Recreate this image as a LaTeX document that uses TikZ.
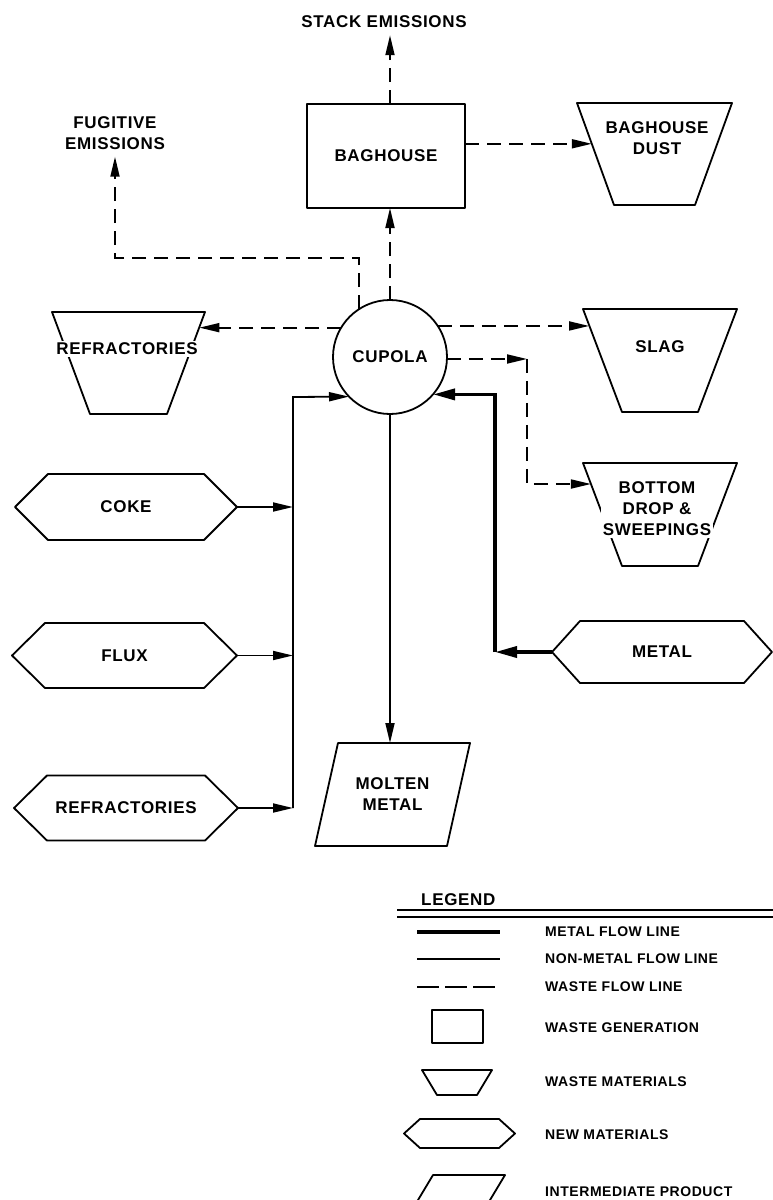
\documentclass[tikz,border=0pt]{standalone}
\usepackage{fontspec}
\setmainfont{Liberation Sans}[LetterSpace=4]
\usetikzlibrary{arrows.meta,calc}
\newcommand{\wastetrap}[2]{\draw[shp] (#1.north west) -- (#1.north east) -- ([xshift=-#2]#1.south east) -- ([xshift=#2]#1.south west) -- cycle;}
\newcommand{\newmat}[2]{\draw[shp] (#1.west) -- ([xshift=#2]#1.north west) -- ([xshift=-#2]#1.north east) -- (#1.east) -- ([xshift=-#2]#1.south east) -- ([xshift=#2]#1.south west) -- cycle;}
\newcommand{\interprod}[2]{\draw[shp] ([xshift=#2]#1.north west) -- (#1.north east) -- ([xshift=-#2]#1.south east) -- (#1.south west) -- cycle;}
\begin{document}
\begin{tikzpicture}[x=1pt,y=-1pt,
  lbl/.style={font=\fontsize{17}{21}\selectfont\bfseries, align=center, inner sep=1pt},
  lg/.style={font=\fontsize{14}{17}\selectfont\bfseries, anchor=west, inner sep=0pt},
  shp/.style={line width=1.8pt, line join=round},
  box/.style={draw=none, outer sep=0pt, inner sep=0pt},
  nonmetal/.style={line width=1.8pt},
  metal/.style={line width=3.6pt},
  waste/.style={line width=1.8pt, dash pattern=on 14pt off 8pt},
  tip/.style={-{Triangle[length=20pt,width=9pt]}},
  mtip/.style={-{Triangle[length=22pt,width=11pt]}}]
\useasboundingbox (0,0) rectangle (773,1200);
\clip (0,0) rectangle (773,1200);

% ---------- process nodes ----------
\node[box, draw, shp, minimum width=158pt, minimum height=104pt, lbl] (baghouse) at (386,156) {BAGHOUSE};
\node[lbl] (stack) at (384,22) {STACK EMISSIONS};
\node[lbl] (fugitive) at (115,133) {FUGITIVE\\EMISSIONS};
\node[circle, draw, shp, minimum size=114pt, inner sep=0pt, outer sep=0pt, lbl] (cupola) at (390,357) {CUPOLA};

% waste materials
\node[box, minimum width=155pt, minimum height=102pt] (dust) at (654.5,154) {};
\wastetrap{dust}{37pt}
\node[lbl] (dusttext) at (657,138) {BAGHOUSE\\DUST};

\node[box, minimum width=153pt, minimum height=102pt] (refw) at (128.5,363) {};
\wastetrap{refw}{38pt}
\node[lbl, fill=white, inner sep=2pt] (refwtext) at (127,349) {REFRACTORIES};

\node[box, minimum width=154pt, minimum height=103pt] (slag) at (660,360.5) {};
\wastetrap{slag}{39pt}
\node[lbl] (slagtext) at (660,347) {SLAG};

\node[box, minimum width=154pt, minimum height=103pt] (bdrop) at (660,514.5) {};
\wastetrap{bdrop}{39pt}
\node[lbl, fill=white, inner sep=2pt] (bdtext) at (657,509) {BOTTOM\\DROP \&\\SWEEPINGS};

% new materials
\node[box, minimum width=222pt, minimum height=66pt, lbl] (coke) at (126,507) {COKE};
\newmat{coke}{33pt}
\node[box, minimum width=225pt, minimum height=65pt, lbl] (flux) at (124.5,655.5) {FLUX};
\newmat{flux}{33pt}
\node[box, minimum width=224pt, minimum height=65pt, lbl] (refn) at (126,808) {REFRACTORIES};
\newmat{refn}{33pt}
\node[box, minimum width=220pt, minimum height=62pt, lbl] (metal) at (662,652) {METAL};
\newmat{metal}{28pt}

% intermediate product
\node[box, minimum width=155pt, minimum height=103pt, lbl] (molten) at (392.5,794.5) {MOLTEN\\METAL};
\interprod{molten}{23pt}

% ---------- connectors ----------
% waste flows
\draw[waste,tip] (cupola.north |- baghouse.north) -- ([yshift=-6pt]cupola.north |- stack.south);
\draw[waste,tip] (cupola.north) -- (cupola.north |- baghouse.south);
\coordinate (dustin) at ($(dust.north west)!0.40!([xshift=37pt]dust.south west)$);
\draw[waste,tip] (baghouse.east |- dustin) -- (dustin);

\coordinate (fugcorner) at (115,258);
\draw[waste,tip] (cupola.123) -- (cupola.123 |- fugcorner) -- (fugcorner) -- ([yshift=-6pt]fugitive.south);

\coordinate (refin) at ($(refw.north east)!0.147!([xshift=-38pt]refw.south east)$);
\draw[waste,tip] (cupola.149) -- (refin |- cupola.149);

\coordinate (slagin) at ($(slag.north west)!0.155!([xshift=39pt]slag.south west)$);
\draw[waste,tip] (cupola.33) -- (slagin |- cupola.33);

\coordinate (bdcorner) at (527,359);
\coordinate (bdin) at ($(bdrop.north west)!0.204!([xshift=39pt]bdrop.south west)$);
\draw[waste,tip] (cupola.-2) -- (bdcorner |- cupola.-2);
\draw[waste,tip] (bdcorner |- cupola.-2) -- (bdcorner |- bdin) -- (bdin);

% metal flow
\coordinate (mcorner) at (495,652);
\draw[metal,mtip] (metal.west) -- (mcorner);
\draw[metal,mtip] (mcorner) -- (mcorner |- cupola.-41) -- (cupola.-41);

% non-metal flows
\coordinate (feedtop) at (293,397);
\coordinate (feedbot) at (293,808);
\draw[nonmetal,tip] (feedbot) -- (feedtop) -- (cupola.224);
\draw[nonmetal,tip] (coke.east) -- (coke.east -| feedtop);
\draw[nonmetal,tip] (flux.east) -- (flux.east -| feedtop);
\draw[nonmetal,tip] (refn.east) -- (refn.east -| feedtop);
\draw[nonmetal,tip] (cupola.south) -- (cupola.south |- molten.north);

% ---------- legend ----------
\node[lbl, anchor=west, inner sep=0pt] (legend) at (421,900) {LEGEND};
\coordinate (dl1a) at (397,910); \coordinate (dl1b) at (773,910);
\coordinate (dl2a) at (397,917); \coordinate (dl2b) at (773,917);
\draw[line width=1.3pt] (dl1a) -- (dl1b);
\draw[line width=1.3pt] (dl2a) -- (dl2b);

\coordinate (lm1) at (417,932); \coordinate (lm2) at (500,932);
\draw[metal] (lm1) -- (lm2);
\node[lg] (lgmetal) at (545,932) {METAL FLOW LINE};
\coordinate (ln1) at (417,959); \coordinate (ln2) at (500,959);
\draw[nonmetal] (ln1) -- (ln2);
\node[lg] (lgnonmetal) at (545,959) {NON-METAL FLOW LINE};
\coordinate (lw1) at (417,987); \coordinate (lw2) at (500,987);
\draw[line width=1.8pt, dash pattern=on 22pt off 6pt] (lw1) -- (lw2);
\node[lg] (lgwaste) at (545,987) {WASTE FLOW LINE};

\node[box, draw, shp, minimum width=51pt, minimum height=33pt] (lgrect) at (457.5,1026.5) {};
\node[lg] (lgwastegen) at (545,1028) {WASTE GENERATION};

\node[box, minimum width=70pt, minimum height=25pt] (lgtrap) at (457,1082.5) {};
\wastetrap{lgtrap}{15pt}
\node[lg] (lgwastemat) at (545,1082) {WASTE MATERIALS};

\node[box, minimum width=111pt, minimum height=29pt] (lghex) at (459.5,1133.5) {};
\newmat{lghex}{16pt}
\node[lg] (lgnew) at (545,1135) {NEW MATERIALS};

\node[box, minimum width=93pt, minimum height=35pt] (lgpar) at (458.5,1192.5) {};
\interprod{lgpar}{21pt}
\node[lg] (lginter) at (545,1192) {INTERMEDIATE PRODUCT};
\end{tikzpicture}
\end{document}
